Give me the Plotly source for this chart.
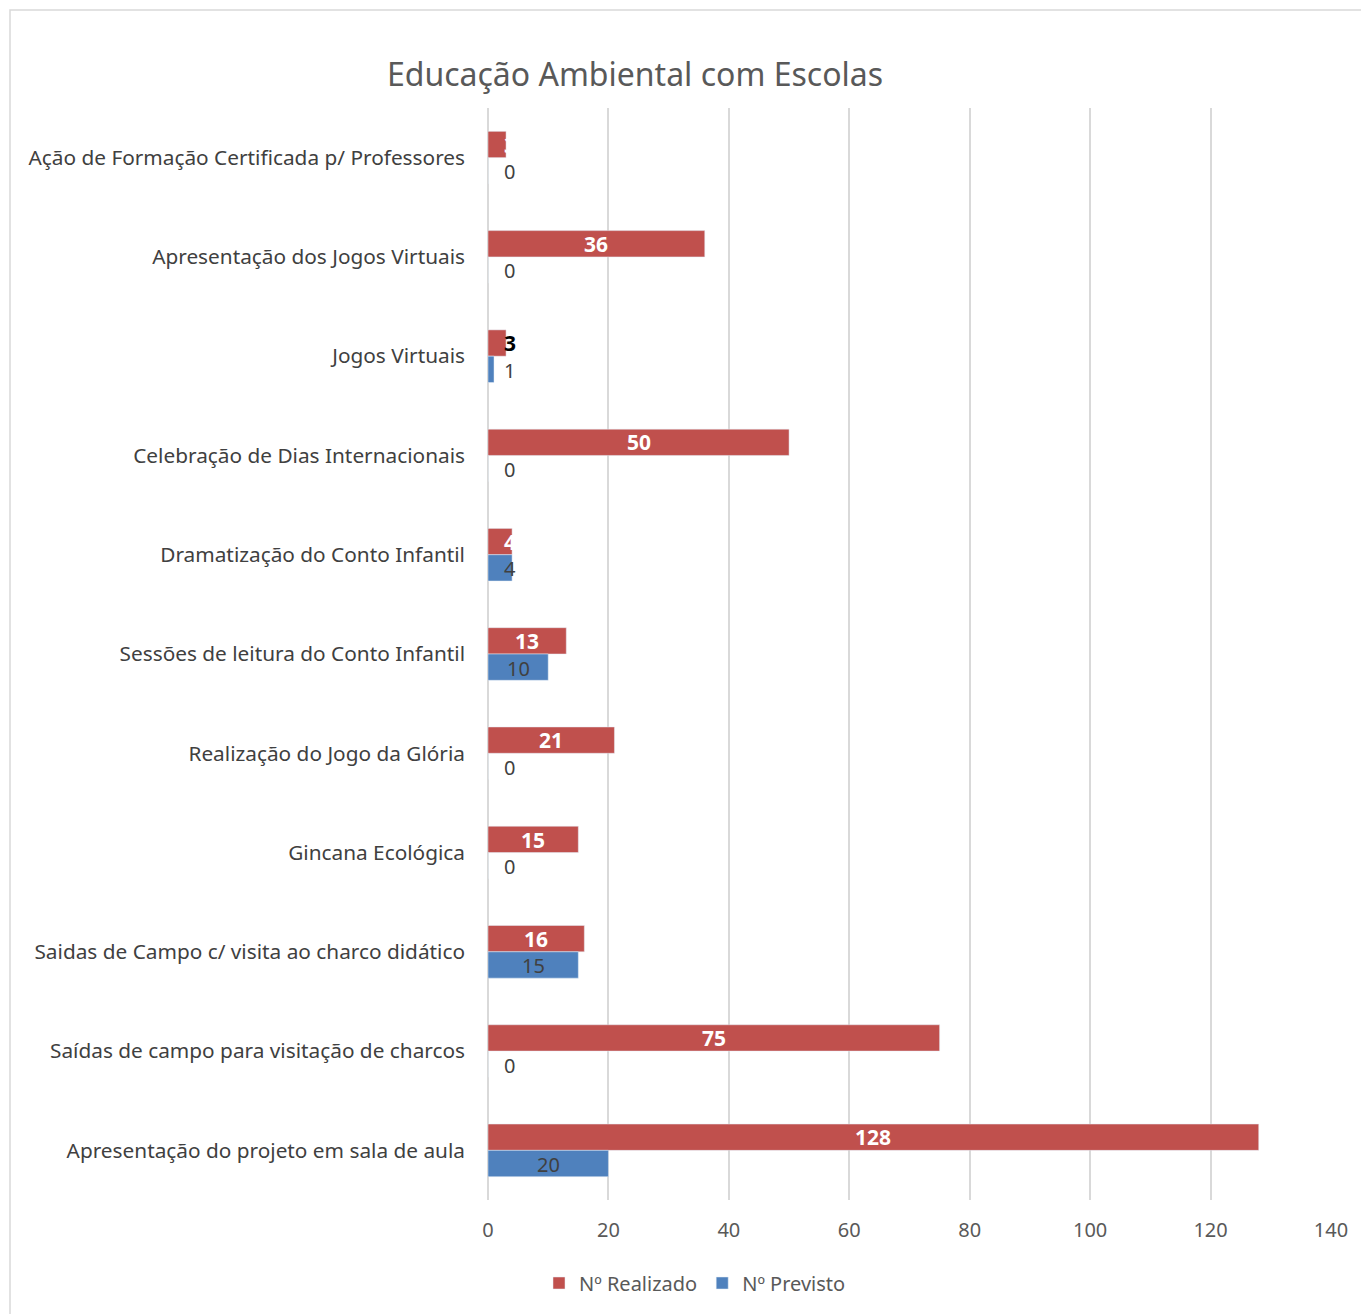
import plotly.graph_objects as go

categories = [
    "Ação de Formação Certificada p/ Professores",
    "Apresentação dos Jogos Virtuais",
    "Jogos Virtuais",
    "Celebração de Dias Internacionais",
    "Dramatização do Conto Infantil",
    "Sessões de leitura do Conto Infantil",
    "Realização do Jogo da Glória",
    "Gincana Ecológica",
    "Saidas de Campo c/ visita ao charco didático",
    "Saídas de campo para visitação de charcos",
    "Apresentação do projeto em sala de aula",
]
realizado = [3, 36, 3, 50, 4, 13, 21, 15, 16, 75, 128]
previsto = [0, 0, 1, 0, 4, 10, 0, 0, 15, 0, 20]
x_ticks = [0, 20, 40, 60, 80, 100, 120, 140]

RED = "#c0504d"
BLUE = "#4f81bd"
FONT = "Noto Sans"
OFF = 8  # page body margin

fig = go.Figure()
fig.add_trace(go.Bar(y=categories, x=realizado, orientation="h", name="Nº Realizado",
                     marker_color=RED, hoverinfo="x+y"))
fig.add_trace(go.Bar(y=categories, x=previsto, orientation="h", name="Nº Previsto",
                     marker_color=BLUE, hoverinfo="x+y"))

SMALL = 4
annotations = []
for cat, v in zip(categories, realizado):
    color = "#000000" if cat == "Jogos Virtuais" else "#ffffff"
    common = dict(y=cat, xref="x", yref="y", text=f"<b>{v}</b>", showarrow=False, yshift=13,
                  font=dict(family=FONT, size=21, color=color))
    if v <= SMALL:
        annotations.append(dict(x=0, xanchor="left", xshift=14, **common))
    else:
        annotations.append(dict(x=v / 2, xanchor="center", **common))
for cat, v in zip(categories, previsto):
    common = dict(y=cat, xref="x", yref="y", text=str(v), showarrow=False, yshift=-14,
                  font=dict(family=FONT, size=20, color="#404040"))
    if v <= SMALL:
        annotations.append(dict(x=0, xanchor="left", xshift=14, **common))
    else:
        annotations.append(dict(x=v / 2, xanchor="center", **common))

W, H = 1369, 1314
L = 488 - OFF
T = 108 - OFF
R = W - (1331 - OFF)
B = H - (1200 - OFF)
pw, ph = W - L - R, H - T - B

fig.update_layout(
    width=W, height=H,
    margin=dict(l=L, r=R, t=T, b=B),
    paper_bgcolor="white", plot_bgcolor="white",
    barmode="group", bargap=0.47, bargroupgap=0,
    font=dict(family=FONT, color="#595959"),
    title=dict(text="Educação Ambiental com Escolas", x=(635 - OFF) / W, xref="container",
               y=1 - (75 - OFF) / H, yref="container", xanchor="center", yanchor="middle",
               font=dict(family=FONT, size=32, color="#595959")),
    xaxis=dict(range=[0, 140], tickvals=x_ticks, showgrid=True, gridcolor="#d9d9d9",
               gridwidth=1.5, zeroline=True, zerolinecolor="#d9d9d9", zerolinewidth=1.5,
               showline=False, ticks="", ticklabelstandoff=16,
               tickfont=dict(family=FONT, size=20, color="#595959")),
    yaxis=dict(autorange="reversed", showgrid=False, zeroline=False, showline=False,
               ticks="", ticklabelstandoff=22,
               tickfont=dict(family=FONT, size=20.8, color="#404040")),
    legend=dict(orientation="h", x=(695 - 488) / pw, xanchor="center",
                y=(1200 - 1283) / ph, yanchor="middle",
                font=dict(family=FONT, size=20, color="#595959"), traceorder="normal"),
    annotations=annotations,
    shapes=[dict(type="rect", xref="paper", yref="paper",
                 x0=(10 - 488) / pw, x1=(W + 40 - 488) / pw,
                 y0=(1200 - (H + 40)) / ph, y1=(1200 - 10) / ph,
                 line=dict(color="#d9d9d9", width=1.5), fillcolor="rgba(0,0,0,0)", layer="below")],
)

fig.write_html("out.html")
